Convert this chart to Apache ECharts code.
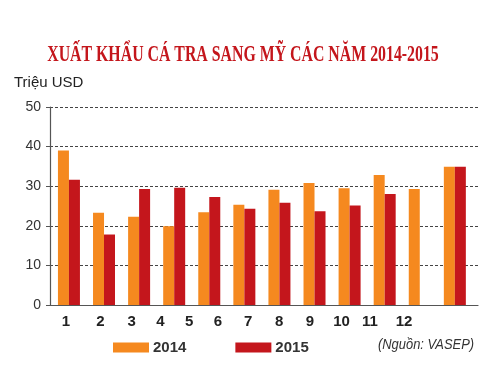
<!DOCTYPE html>
<html>
<head>
<meta charset="utf-8">
<script src="https://cdn.jsdelivr.net/npm/echarts@6/dist/echarts.min.js"></script>
<style>html,body{margin:0;padding:0;background:#fff}#c{width:500px;height:370px}</style>
</head>
<body>
<div id="c"></div>
<script>
// Data
var months = ["1","2","3","4","5","6","7","8","9","10","11","12"];
var values2014 = [39.0, 23.3, 22.3, 19.9, 23.4, 25.3, 29.1, 30.8, 29.5, 32.8, 29.3, 34.9];
var values2015 = [31.6, 17.8, 29.3, 29.6, 27.3, 24.3, 25.8, 23.7, 25.1, 28.0, null, 34.9];
var yTicks = [0, 10, 20, 30, 40, 50];
var seriesNames = ["2014", "2015"];
var titleText = 'XUẤT KHẨU CÁ TRA SANG MỸ CÁC NĂM 2014-2015';
var unitText = 'Triệu USD';
var sourceText = '(Nguồn: VASEP)';

// Layout (label anchor offsets along the x scale, as printed in the source graphic)
var labelAnchors = [-0.085, 0.90, 1.79, 2.61, 3.43, 4.25, 5.11, 5.99, 6.87, 7.77, 8.58, 9.55];

function pairs(arr) {
  var out = [];
  for (var i = 0; i < arr.length; i++) {
    if (arr[i] !== null) out.push([i, arr[i]]);
  }
  return out;
}

var chart = echarts.init(document.getElementById('c'), null, {renderer: 'canvas'});
chart.setOption({
  animation: false,
  backgroundColor: '#ffffff',
  graphic: [
    {
      type: 'text', x: 243, y: 55, scaleX: 0.66,
      style: {text: titleText, font: 'bold 24px "Liberation Serif"', fill: '#C4161C',
              textAlign: 'center', textVerticalAlign: 'middle'}
    },
    {
      type: 'text', x: 14, y: 83,
      style: {text: unitText, font: '15px "Liberation Sans"', fill: '#222',
              textAlign: 'left', textVerticalAlign: 'middle'}
    },
    {
      type: 'text', x: 378, y: 345, scaleX: 0.86,
      style: {text: sourceText, font: 'italic 15px "Liberation Sans"', fill: '#333',
              textAlign: 'left', textVerticalAlign: 'middle'}
    }
  ],
  legend: {
    left: 108, top: 335,
    itemWidth: 36, itemHeight: 10, itemGap: 49,
    icon: 'rect',
    data: seriesNames,
    textStyle: {fontFamily: 'Liberation Sans', fontWeight: 'bold', fontSize: 15, color: '#333', padding: [0, 0, 0, -1]}
  },
  grid: {left: 50, right: 22, top: 107, bottom: 65},
  xAxis: {
    type: 'value',
    min: -0.54, max: 11.66,
    splitLine: {show: false},
    axisLine: {show: true, lineStyle: {color: '#555', width: 1.2}},
    axisTick: {show: false},
    axisLabel: {
      customValues: labelAnchors,
      margin: 9,
      fontFamily: 'Liberation Sans', fontWeight: 'bold', fontSize: 15, color: '#222',
      formatter: function (v) {
        var best = 0, d = Infinity;
        for (var i = 0; i < labelAnchors.length; i++) {
          var dd = Math.abs(labelAnchors[i] - v);
          if (dd < d) { d = dd; best = i; }
        }
        return months[best];
      }
    }
  },
  yAxis: {
    type: 'value', min: yTicks[0], max: yTicks[yTicks.length - 1], interval: 10,
    axisLine: {show: true, onZero: false, lineStyle: {color: '#555', width: 1.2}},
    axisTick: {show: true, length: 4, lineStyle: {color: '#555'}},
    axisLabel: {margin: 9, fontFamily: 'Liberation Sans', fontSize: 14, color: '#333'},
    splitLine: {show: true, lineStyle: {color: '#444', type: [3, 2], width: 1}}
  },
  series: [
    {name: seriesNames[0], type: 'bar', data: pairs(values2014), barWidth: 11, barGap: '0%',
     itemStyle: {color: '#F5891F'}},
    {name: seriesNames[1], type: 'bar', data: pairs(values2015), barWidth: 11, barGap: '0%',
     itemStyle: {color: '#C4161C'}}
  ]
});
</script>
</body>
</html>
